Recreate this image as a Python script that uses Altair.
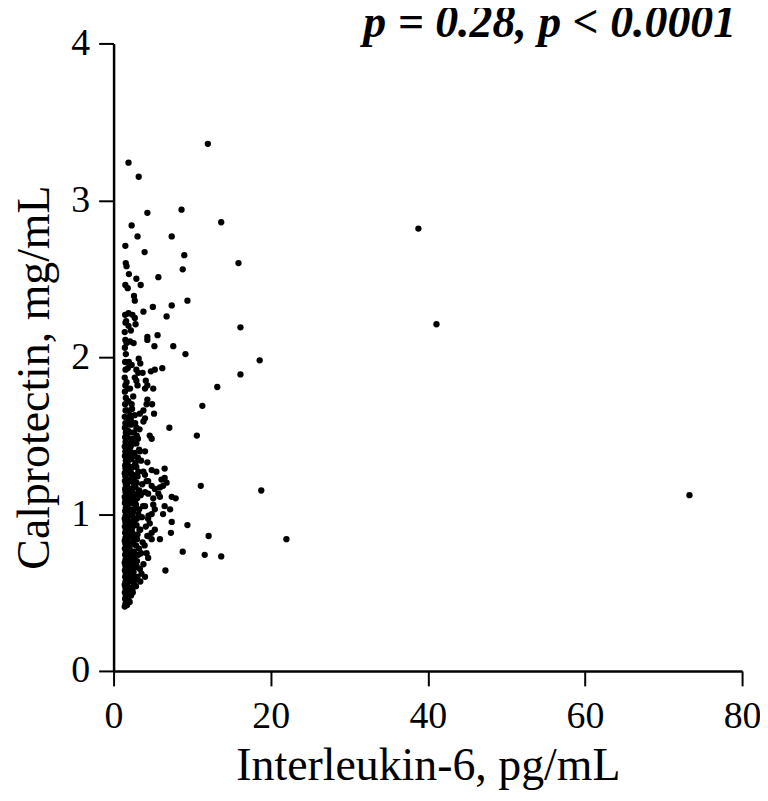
import altair as alt
import pandas as pd

# Dense cluster, read column by column (IL-6 pg/mL, calprotectin mg/mL)
cluster_a = [(1.42,0.41),(1.52,0.43),(1.47,0.46),(1.56,0.48),(1.44,0.50),(1.50,0.53),(1.42,0.55),(1.52,0.57),
             (1.47,0.60),(1.56,0.62),(1.44,0.64),(1.50,0.67),(1.42,0.69),(1.52,0.71),(1.47,0.74),(1.56,0.76),
             (1.44,0.78),(1.50,0.81),(1.42,0.83),(1.52,0.85),(1.47,0.88),(1.56,0.90),(1.44,0.92),(1.50,0.95),
             (1.42,0.97),(1.52,0.99),(1.47,1.02),(1.56,1.04),(1.44,1.07),(1.50,1.09),(1.42,1.11),(1.52,1.14),
             (1.47,1.16),(1.56,1.19),(1.44,1.21),(1.50,1.24),(1.42,1.26),(1.52,1.29),(1.47,1.31),(1.56,1.34),
             (1.44,1.37),(1.50,1.40),(1.42,1.43),(1.52,1.46),(1.47,1.49),(1.56,1.52),(1.44,1.55),(1.50,1.58),
             (1.42,1.62),(1.52,1.66),(1.47,1.70),(1.56,1.74),(1.44,1.78),(1.50,1.82),(1.42,1.87),(1.52,1.92),
             (1.47,1.97),(1.56,2.02),(1.44,2.06),(1.50,2.11),(1.42,2.16),(1.52,2.22),(1.47,2.27)]
cluster_b = [(1.72,0.42),(1.85,0.45),(1.78,0.49),(1.92,0.52),(1.75,0.56),(1.88,0.59),(1.72,0.63),(1.85,0.66),
             (1.78,0.70),(1.92,0.73),(1.75,0.77),(1.88,0.80),(1.72,0.84),(1.85,0.87),(1.78,0.91),(1.92,0.94),
             (1.75,0.98),(1.88,1.01),(1.72,1.05),(1.85,1.08),(1.78,1.12),(1.92,1.15),(1.75,1.19),(1.88,1.22),
             (1.72,1.26),(1.85,1.30),(1.78,1.33),(1.92,1.37),(1.75,1.41),(1.88,1.45),(1.72,1.49),(1.85,1.53),
             (1.78,1.57),(1.92,1.61),(1.75,1.66),(1.88,1.72),(1.80,1.80),(1.65,1.84),(1.80,1.93),(1.95,1.97),
             (1.65,2.09),(1.90,2.20),(1.90,2.28)]
cluster_c = [(2.05,0.44),(2.22,0.48),(2.12,0.53),(2.30,0.57),(2.05,0.61),(2.22,0.65),(2.12,0.69),(2.30,0.73),
             (2.05,0.78),(2.22,0.82),(2.12,0.86),(2.30,0.90),(2.05,0.95),(2.22,0.99),(2.12,1.03),(2.30,1.07),
             (2.05,1.12),(2.22,1.16),(2.12,1.21),(2.30,1.25),(2.05,1.30),(2.22,1.35),(2.12,1.40),(2.30,1.46),
             (2.05,1.52),(2.22,1.57),(2.12,1.63),(2.30,1.70),(2.10,1.80),(2.30,1.95),(2.10,2.10),(2.20,2.17)]
cluster_k = [(2.38,0.52),(2.18,0.59),(2.40,0.68),(2.18,0.75),(2.38,0.88),(2.18,0.92),(2.38,1.00),(2.16,1.09),
             (2.38,1.16),(2.18,1.27),(2.40,1.30),(2.18,1.43),(2.38,1.48),(2.20,1.60),(2.35,1.67)]
cluster_d = [(2.45,0.50),(2.62,0.55),(2.52,0.60),(2.70,0.66),(2.45,0.71),(2.62,0.76),(2.52,0.81),(2.70,0.86),
             (2.45,0.92),(2.62,0.97),(2.52,1.02),(2.70,1.08),(2.45,1.13),(2.62,1.19),(2.52,1.25),(2.70,1.31),
             (2.45,1.37),(2.50,1.37),(2.70,1.39),(2.60,1.52),(2.70,1.63),(2.50,1.75),(2.70,1.87),(2.55,2.09)]
cluster_j = [(2.75,0.58),(2.55,0.63),(2.98,0.70),(2.62,0.73),(3.25,0.78),(2.58,0.84),(2.98,0.84),(3.30,0.90),
             (2.60,0.95),(2.95,0.97),(3.25,1.03),(2.75,1.04),(3.00,1.10),(2.58,1.10),(3.25,1.15),(2.80,1.17),
             (2.60,1.22),(3.05,1.24),(2.80,1.33),(3.25,1.41),(2.62,1.45),(3.10,1.48),(2.75,1.58),(3.30,1.54)]
cluster_e = [(2.85,0.54),(3.05,0.60),(2.92,0.67),(3.15,0.74),(2.85,0.80),(3.05,0.87),(2.92,0.93),(3.15,1.00),
             (2.85,1.06),(3.05,1.13),(2.92,1.20),(3.15,1.27),(2.90,1.30),(3.10,1.36),(2.90,1.45),(2.95,1.50),
             (2.90,1.55),(3.05,1.82),(2.90,1.85),(3.15,1.90),(2.90,1.92),(3.20,1.99),(2.80,2.21)]
cluster_f = [(3.40,0.57),(3.55,0.62),(3.35,0.65),(3.80,0.68),(3.50,0.75),(3.70,0.82),(3.40,0.90),(3.60,0.98),
             (3.75,1.05),(3.45,1.12),(3.65,1.19),(3.80,1.27),(3.50,1.34),(3.35,1.40),(3.80,1.59),(3.35,1.64),
             (3.80,1.66),(3.70,1.90),(3.40,1.96)]
cluster_g = [(4.00,0.60),(4.40,0.72),(4.20,0.75),(3.95,0.80),(4.30,0.86),(4.10,0.92),(4.45,0.99),(4.00,1.05),
             (4.40,1.13),(4.00,1.14),(4.20,1.21),(4.40,1.21),(4.00,1.25),(4.30,1.33),(4.00,1.40),(4.00,1.61),
             (4.20,1.70),(4.30,1.73),(4.00,1.80),(4.10,1.85),(4.30,1.82),(4.30,2.11),(4.30,2.13)]
cluster_h = [(4.85,0.84),(4.40,0.86),(4.85,0.88),(5.25,0.90),(4.60,0.94),(4.40,0.97),(4.85,1.00),(5.25,1.03),
             (5.05,1.06),(5.05,1.10),(5.25,1.16),(4.85,1.18),(4.85,1.28),(4.85,1.48),(4.60,1.50),(5.15,1.64),
             (4.90,1.70),(5.05,1.80),(5.25,1.92),(4.75,1.91),(5.20,2.07),(5.00,2.32)]
cluster_i = [(5.45,1.27),(5.70,1.13),(5.90,1.11),(5.90,1.17),(5.90,0.84),(6.10,1.22),(6.30,1.18),(6.30,1.00),
             (6.50,1.23),(6.50,1.29),(6.50,1.05),(6.60,0.64),(6.75,1.20),(7.10,1.55),(7.20,1.03),(7.30,0.88),
             (7.40,1.11),(7.40,0.95),(7.90,1.10),(6.20,1.93),(5.70,2.51),(6.75,2.26),(7.40,2.33),(7.40,2.77),
             (7.60,2.07),(5.60,2.14)]
upper_left = [(1.90,3.24),(3.20,3.15),(4.30,2.92),(2.30,2.84),(3.05,2.77),(1.50,2.71),(3.95,2.67),(1.65,2.58),
              (1.55,2.60),(1.95,2.53),(2.90,2.50),(3.45,2.46),(1.50,2.46),(1.80,2.44),(2.60,2.39),(2.70,2.36),
              (3.80,2.29),(2.40,2.27),(2.70,2.25),(1.60,2.23)]
outliers = [(12.0,3.36),(8.65,2.94),(13.7,2.86),(38.8,2.82),(9.0,2.65),(15.9,2.60),(8.8,2.56),(9.4,2.36),
            (41.1,2.21),(16.15,2.19),(9.15,2.02),(18.6,1.98),(16.15,1.89),(13.2,1.81),(11.3,1.69),(10.6,1.50),
            (11.1,1.18),(18.8,1.15),(9.4,0.93),(12.1,0.86),(22.0,0.84),(8.8,0.76),(11.6,0.74),(13.7,0.73),
            (73.3,1.12)]

x_ticks = [0, 20, 40, 60, 80]
y_ticks = [0, 1, 2, 3, 4]

points = (cluster_a + cluster_b + cluster_c + cluster_k + cluster_d + cluster_j + cluster_e + cluster_f
          + cluster_g + cluster_h + cluster_i + upper_left + outliers)
df = pd.DataFrame(points, columns=["il6", "calprotectin"])

FONT = "Liberation Serif"
axis_common = dict(grid=False, domainColor="black", domainWidth=2.5, tickColor="black", tickWidth=2,
                   tickSize=15, labelFont=FONT, labelFontSize=38, labelColor="black", labelFlush=False,
                   titleFont=FONT, titleFontSize=46, titleFontWeight="normal", titleColor="black")

chart = alt.Chart(df).mark_circle(size=40, color="black", opacity=1).encode(
    x=alt.X("il6:Q", scale=alt.Scale(domain=[0, 80], nice=False),
            axis=alt.Axis(values=x_ticks, title="Interleukin-6, pg/mL", labelPadding=12,
                          titlePadding=8, **axis_common)),
    y=alt.Y("calprotectin:Q", scale=alt.Scale(domain=[0, 4], nice=False),
            axis=alt.Axis(values=y_ticks, title="Calprotectin, mg/mL", labelPadding=9,
                          titlePadding=12, titleY=335, **axis_common)),
).properties(
    width=631, height=630,
    autosize=alt.AutoSizeParams(type="none"),
    padding={"left": 106, "top": 34, "right": 18, "bottom": 121},
    title=alt.TitleParams("p = 0.28, p < 0.0001", anchor="end", font=FONT, fontSize=46,
                          fontWeight="bold", fontStyle="italic", color="black",
                          baseline="alphabetic", offset=0, dx=-25, dy=59),
).configure_view(stroke=None)

chart.save("out.html", embed_options={"renderer": "svg", "actions": False})
